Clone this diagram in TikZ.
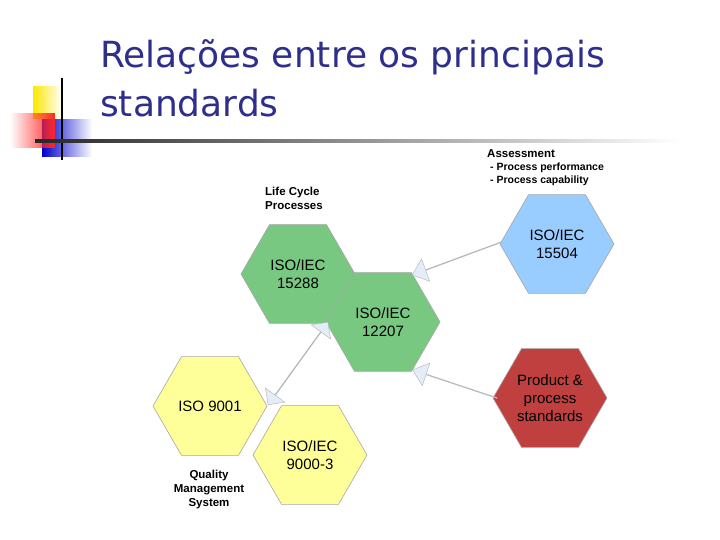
\documentclass[tikz,border=0pt]{standalone}
\usepackage{fontspec}
\setmainfont{Liberation Sans}
\newfontfamily\titlefont{DejaVu Sans}
\usetikzlibrary{shapes.geometric,shapes.arrows,fadings}
\definecolor{titleblue}{RGB}{46,46,140}
\definecolor{hgreen}{RGB}{120,200,130}
\definecolor{hblue}{RGB}{153,204,255}
\definecolor{hred}{RGB}{192,64,64}
\definecolor{hyellow}{RGB}{255,255,153}
\definecolor{arrfill}{RGB}{228,236,248}
\tikzset{
  hexa/.style={regular polygon, regular polygon sides=6, minimum size=114pt, inner sep=0pt, draw=gray!70, line width=0.6pt, align=center, font=\fontsize{15}{18}\selectfont},
  lbl/.style={font=\bfseries\fontsize{11.5}{14}\selectfont, align=left, inner sep=0pt, anchor=north west},
  bigarr/.style={single arrow, draw=gray!60, fill=arrfill, minimum width=24pt, single arrow head extend=6pt, single arrow tip angle=80, inner sep=0pt},
  dblarr/.style={double arrow, draw=gray!60, fill=arrfill, minimum width=24pt, double arrow head extend=6pt, inner sep=0pt}
}
\begin{document}
\begin{tikzpicture}[x=1pt,y=-1pt]
\useasboundingbox (0,0) rectangle (720,540);
% logo
\fill[yellow!90!orange, path fading=east] (33,86) rectangle (62,119);
\fill[blue!80!black, path fading=east] (42,119) rectangle (92,157);
\fill[red!85, path fading=west] (10,113) rectangle (55,148);
\draw[line width=2pt] (62,78) -- (62,160);
\shade[left color=black!85, right color=white] (35,139.5) rectangle (680,142.5);
% title
\node[anchor=base west, inner sep=0pt, text=titleblue, font=\titlefont\fontsize{36}{40}\selectfont] (t1) at (100,68) {Relações entre os principais};
\node[anchor=base west, inner sep=0pt, text=titleblue, font=\titlefont\fontsize{36}{40}\selectfont] (t2) at (100,117) {standards};
% hexagons
\node[hexa, fill=hgreen] (h15288) at (298,274) {ISO/IEC\\15288};
\node[hexa, fill=hgreen] (h12207) at (383,322) {ISO/IEC\\12207};
\node[hexa, fill=hblue] (h15504) at (557,244) {ISO/IEC\\15504};
\node[hexa, fill=hred] (hprod) at (550,398) {Product \&\\process\\standards};
\node[hexa, fill=hyellow] (h9001) at (210,406) {ISO 9001};
\node[hexa, fill=hyellow] (h9000) at (310,455) {ISO/IEC\\9000-3};
% arrows
\node[bigarr, minimum height=95pt, rotate=200.3] (a1) at (457,258.5) {};
\node[bigarr, minimum height=89pt, rotate=161.6] (a2) at (455,384) {};
\node[dblarr, minimum height=102pt, rotate=54.1] (a3) at (298,363.5) {};
% labels
\node[lbl] (l1) at (265,187) {Life Cycle\\Processes};
\node[lbl] (l2) at (487,149) {Assessment\\[-1pt]\fontsize{10.5}{13}\selectfont\ - Process performance\\[-1pt]\fontsize{10.5}{13}\selectfont\ - Process capability};
\node[font=\bfseries\fontsize{11.5}{14}\selectfont, align=center, inner sep=0pt] (l3) at (209,490) {Quality\\Management\\System};
\end{tikzpicture}
\end{document}
